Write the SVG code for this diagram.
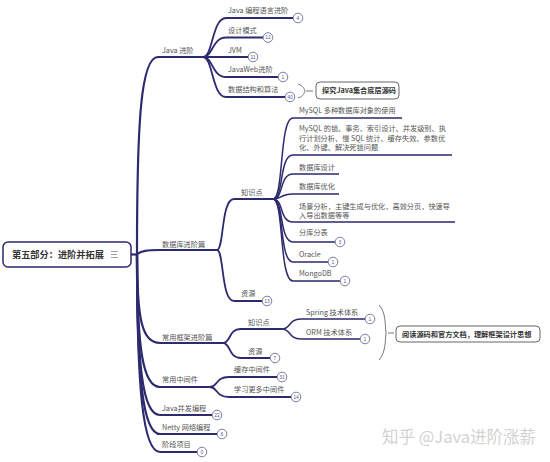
<svg xmlns="http://www.w3.org/2000/svg" width="550" height="462" viewBox="0 0 550 462">
<style>
.l1{fill:none;stroke:#2d2a6e;stroke-width:2.2}
.l2{fill:none;stroke:#2d2a6e;stroke-width:1.8}
.l3{fill:none;stroke:#2d2a6e;stroke-width:1.5}
.t{font-family:"Noto Sans CJK SC","Noto Sans",sans-serif;font-size:7.2px;fill:#555}
.bx{fill:#fff;stroke:#555;stroke-width:0.9}
.bt{font-family:"Noto Sans CJK SC","Noto Sans",sans-serif;font-size:7.2px;fill:#333;font-weight:bold}
.bd circle{fill:#fff;stroke:#5a5a8c;stroke-width:0.8}
.bd text{font-family:"Liberation Sans",sans-serif;font-size:5px;fill:#5a5a8c;text-anchor:middle}
.br{fill:none;stroke:#666;stroke-width:0.9}
</style>
<rect width="550" height="462" fill="#fff"/>
<g id="connectors">
<path class="l1" d="M131,254.5 L137,254.5"/>
<path class="l1" d="M137,254 C137,120 141,57 158,57 L203,57"/>
<path class="l1" d="M137,254 C142,251 146,250 160,250 L217,250"/>
<path class="l1" d="M137,254 C137,320 142,343 160,343 L223,343"/>
<path class="l1" d="M137,254 C137,350 143,387 160,387 L210,387"/>
<path class="l1" d="M137,254 C137,370 143,415 160,415 L212,415"/>
<path class="l1" d="M137,254 C137,380 143,434 160,434 L217,434"/>
<path class="l1" d="M137,254 C137,390 143,452 160,452 L197,452"/>
<path class="l2" d="M203,57 C213,57 212,18 226,18 L293,18"/>
<path class="l2" d="M203,57 C213,57 212,37.5 226,37.5 L263,37.5"/>
<path class="l2" d="M203,57 L248,57"/>
<path class="l2" d="M203,57 C213,57 212,77 226,77 L278,77"/>
<path class="l2" d="M203,57 C213,57 212,97 226,97 L285,97"/>
<path class="l2" d="M217,250 C224,250 221,199 234,199 L273,199"/>
<path class="l2" d="M217,250 C224,250 221,301 234,301 L262,301"/>
<path class="l3" d="M273,199 C284,199 279,118 293,118 L402,118"/>
<path class="l3" d="M273,199 C284,199 279,155 293,155 L452,155"/>
<path class="l3" d="M273,199 C284,199 279,174 293,174 L339,174"/>
<path class="l3" d="M273,199 C284,199 279,194 293,194 L339,194"/>
<path class="l3" d="M273,199 C284,199 279,222 293,222 L455,222"/>
<path class="l3" d="M273,199 C284,199 279,242 293,242 L335,242"/>
<path class="l3" d="M273,199 C284,199 279,262 293,262 L328,262"/>
<path class="l3" d="M273,199 C284,199 279,281 293,281 L340,281"/>
<path class="l2" d="M223,343 C231,343 228,329 241,329 L282,329"/>
<path class="l2" d="M223,343 C231,343 228,358 241,358 L270,358"/>
<path class="l3" d="M282,329 C291,329 288,319 301,319 L365,319"/>
<path class="l3" d="M282,329 C291,329 288,339 301,339 L360,339"/>
<path class="l2" d="M210,387 C218,387 215,377 229,377 L277,377"/>
<path class="l2" d="M210,387 C218,387 215,397 229,397 L291,397"/>
<path class="br" d="M298,84 C304,86 304,89 305,91 C304,93 304,96 298,98 M306,91 L313,91"/>
<path class="br" d="M379,305 C386,312 385,325 386,333 C385,341 386,352 379,360 M388,333 L394,333"/>
</g>
<g id="root">
<rect x="3" y="242" width="128" height="25" rx="5" fill="#fff" stroke="#2d2a6e" stroke-width="1.5"/>
<text x="12" y="258" style="font-family:'Noto Sans CJK SC',sans-serif;font-size:9.2px;font-weight:bold;fill:#333">第五部分：进阶并拓展</text>
<path d="M111,251.5 H118 M111,254.5 H117 M111,257.5 H118" stroke="#888" stroke-width="0.8" fill="none"/>
</g>
<g id="java"><text class="t" x="162" y="52.5">Java 进阶</text></g>
<g id="java1"><text class="t" x="228" y="12.5">Java 编程语言进阶</text><g class="bd"><circle cx="298" cy="18" r="4.8"/><text x="298" y="19.8">4</text></g></g>
<g id="java2"><text class="t" x="228" y="33">设计模式</text><g class="bd"><circle cx="268" cy="37.5" r="4.8"/><text x="268" y="39.3">12</text></g></g>
<g id="java3"><text class="t" x="228" y="52.5">JVM</text><g class="bd"><circle cx="253" cy="57" r="4.8"/><text x="253" y="58.8">11</text></g></g>
<g id="java4"><text class="t" x="228" y="72">JavaWeb进阶</text><g class="bd"><circle cx="283" cy="77" r="4.8"/><text x="283" y="78.8">1</text></g></g>
<g id="java5"><text class="t" x="228" y="92">数据结构和算法</text><g class="bd"><circle cx="290" cy="97" r="4.8"/><text x="290" y="98.8">40</text></g></g>
<g id="sum1"><rect class="bx" x="316" y="82" width="83" height="17" rx="4"/><text class="bt" x="322" y="93.3">探究Java集合底层源码</text></g>
<g id="db"><text class="t" x="162" y="246.5">数据库进阶篇</text></g>
<g id="db-k"><text class="t" x="241" y="194.5">知识点</text></g>
<g id="db-r"><text class="t" x="241" y="296">资源</text><g class="bd"><circle cx="267" cy="301" r="4.8"/><text x="267" y="302.8">13</text></g></g>
<g id="k1"><text class="t" x="299" y="112.5">MySQL 多种数据库对象的使用</text></g>
<g id="k2"><text class="t" x="299" y="131">MySQL 的锁、事务、索引设计、并发级别、执</text><text class="t" x="299" y="140.7">行计划分析、慢 SQL 统计、缓存失效、参数优</text><text class="t" x="299" y="150.4">化、外键、解决死锁问题</text></g>
<g id="k3"><text class="t" x="299" y="169.5">数据库设计</text></g>
<g id="k4"><text class="t" x="299" y="188.5">数据库优化</text></g>
<g id="k5"><text class="t" x="299" y="208.5">场景分析，主键生成与优化，高效分页，快速导</text><text class="t" x="299" y="218">入导出数据等等</text></g>
<g id="k6"><text class="t" x="299" y="234.5">分库分表</text><g class="bd"><circle cx="340" cy="242" r="4.8"/><text x="340" y="243.8">3</text></g></g>
<g id="k7"><text class="t" x="299" y="256.5">Oracle</text><g class="bd"><circle cx="333" cy="262" r="4.8"/><text x="333" y="263.8">1</text></g></g>
<g id="k8"><text class="t" x="299" y="276">MongoDB</text><g class="bd"><circle cx="345" cy="281" r="4.8"/><text x="345" y="282.8">1</text></g></g>
<g id="fw"><text class="t" x="162" y="339.5">常用框架进阶篇</text></g>
<g id="fw-k"><text class="t" x="248" y="324.5">知识点</text></g>
<g id="fw-r"><text class="t" x="248" y="353.5">资源</text><g class="bd"><circle cx="275" cy="358" r="4.8"/><text x="275" y="359.8">7</text></g></g>
<g id="spring"><text class="t" x="306" y="314.5">Spring 技术体系</text><g class="bd"><circle cx="370" cy="319" r="4.8"/><text x="370" y="320.8">1</text></g></g>
<g id="orm"><text class="t" x="306" y="334.5">ORM 技术体系</text><g class="bd"><circle cx="365" cy="339" r="4.8"/><text x="365" y="340.8">1</text></g></g>
<g id="sum2"><rect class="bx" x="396" y="326" width="144" height="16" rx="4"/><text class="bt" x="402" y="336.6">阅读源码和官方文档，理解框架设计思想</text></g>
<g id="mw"><text class="t" x="162" y="381.5">常用中间件</text></g>
<g id="mw1"><text class="t" x="234" y="371.5">缓存中间件</text><g class="bd"><circle cx="282" cy="377" r="4.8"/><text x="282" y="378.8">31</text></g></g>
<g id="mw2"><text class="t" x="234" y="391.5">学习更多中间件</text><g class="bd"><circle cx="296" cy="397" r="4.8"/><text x="296" y="398.8">14</text></g></g>
<g id="conc"><text class="t" x="162" y="410.5">Java并发编程</text><g class="bd"><circle cx="217" cy="415" r="4.8"/><text x="217" y="416.8">22</text></g></g>
<g id="netty"><text class="t" x="162" y="429.5">Netty 网络编程</text><g class="bd"><circle cx="222" cy="434" r="4.8"/><text x="222" y="435.8">6</text></g></g>
<g id="proj"><text class="t" x="162" y="447">阶段项目</text><g class="bd"><circle cx="202" cy="452" r="4.8"/><text x="202" y="453.8">0</text></g></g>
<text x="382" y="443" style="font-family:'Noto Sans CJK SC',sans-serif;font-size:16.5px;fill:#d2d2d2">知乎 @Java进阶涨薪</text>
</svg>
